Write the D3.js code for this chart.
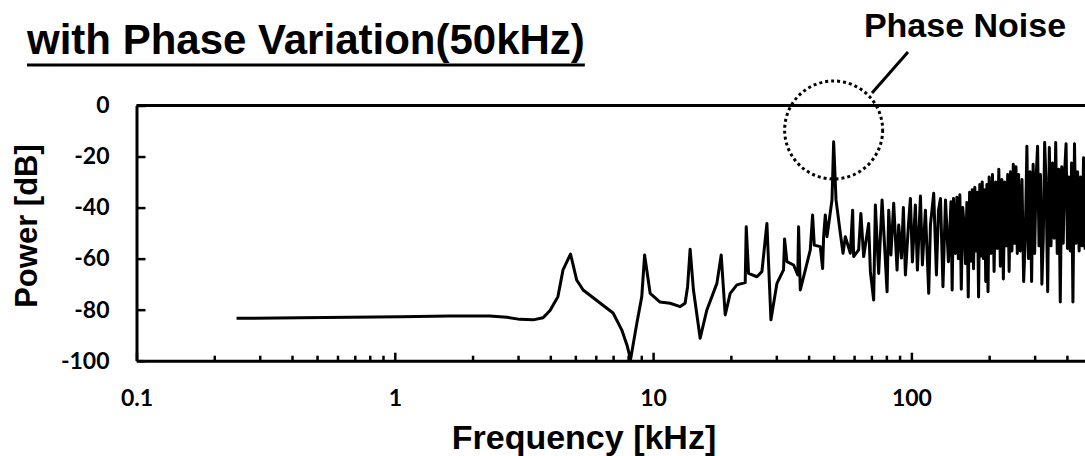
<!DOCTYPE html>
<html>
<head>
<meta charset="utf-8">
<script src="https://cdn.jsdelivr.net/npm/d3@7"></script>
<style>
  body { margin: 0; background: #fff; }
  svg { display: block; }
</style>
</head>
<body>
<div id="chart"></div>
<script>
// Spektrum: frekvens i kHz og effekt i dB
const freqKHz = [
  0.244, 0.43, 1.05, 1.63, 2.33, 2.72, 3.05, 3.43, 3.75, 3.99, 4.28, 4.48, 4.79, 5.06, 5.36, 6.23, 7.0, 7.56, 7.93, 8.18,
  8.65, 9.04, 9.27, 9.74, 10.64, 11.64, 12.73, 13.3, 13.6, 13.91, 14.33, 15.21, 16.15, 17.66, 18.35, 19.02, 19.88, 21.11,
  22.73, 22.94, 23.42, 25.23, 26.38, 27.58, 28.59, 30.16, 31.99, 32.28, 32.98, 34.99, 36.32, 36.58, 37.14, 38.83, 40.6,
  41.44, 42.07, 44.4, 45.32, 45.72, 46.42, 47.13, 49.27, 50.0, 51.07, 53.06, 54.36, 55.49, 58.02, 59.23, 59.76, 62.48,
  63.73, 65.34, 68.32, 69.37, 71.43, 72.53, 74.7, 77.0, 80.5, 81.7, 83.3, 85.4, 88.0, 89.3, 91.5, 93.1, 94.8, 97.4, 99.1,
  100.9, 103.6, 105.5, 108.4, 110.3, 113.3, 116.7, 118.5, 122.0, 125.0, 127.3, 129.6, 132.5, 135.5, 139.1, 142.3, 143.8,
  145.5,
  148, 150, 152, 154, 156, 158, 160, 162, 164, 166, 168, 170, 172, 174, 176, 178, 180, 182, 184, 186, 188, 190, 192, 194,
  196, 198, 200, 203, 206, 209, 212, 215, 218, 221, 224, 227, 230, 233, 236, 239, 242, 245, 248, 251, 254, 257, 260, 264,
  268, 272, 276, 280, 284, 288, 292, 296, 300, 304, 308, 312, 316, 320, 324, 328, 332, 337, 342, 347, 352, 357, 362, 367,
  372, 377, 382, 387, 392, 397, 402, 407, 412, 417, 422, 428, 434, 440, 446, 452, 458, 464, 470, 476, 482
];
const powerDB = [
  -83.4, -83.2, -82.8, -82.5, -82.5, -83.0, -83.8, -84.0, -83.2, -80.3, -74.9, -64.4, -58.2, -68.4, -72.3, -77.4, -81.3, -87.9, -94.0, -99.5,
  -85.3, -74.9, -58.6, -73.6, -77.0, -77.5, -78.8, -77.5, -71.0, -56.3, -72.3, -91.2, -80.1, -69.7, -58.6, -82.1, -73.6, -70.3,
  -69.4, -47.5, -65.8, -67.1, -65.1, -46.2, -84.0, -69.7, -64.4, -52.3, -61.2, -62.5, -66.4, -47.5, -72.3, -64.5, -56.6,
  -42.9, -54.7, -55.3, -63.9, -51.4, -42.9, -51.4, -37.0, -14.2, -37.0, -50.0, -57.9, -51.4, -57.9, -41.0, -59.2, -56.6,
  -42.3, -59.2, -46.2, -65.1, -76.2, -39.0, -65.8, -37.0, -73.0, -41.0, -58.6, -38.3, -64.5, -46.8, -59.8, -40.0, -66.4, -46.8, -36.4,
  -61.3, -39.0, -64.5, -35.5, -62.5, -41.0, -73.6, -46.8, -34.4, -66.4, -41.0, -36.4, -71.0, -37.0, -61.2, -37.7, -72.3,
  -36.4,
  -58, -36, -60, -35, -72, -40, -47, -62, -38, -75, -34, -61, -33, -64, -32, -57, -34, -75, -31, -59, -30, -60, -33, -69,
  -31, -73, -28, -58, -27, -65, -30, -56, -25, -63, -29, -68, -30, -55, -27, -65, -26, -57, -23, -54, -24, -58, -27, -57,
  -29, -69, -52, -16, -60, -26, -69, -23, -58, -28, -16, -55, -27, -70, -52, -14.5, -30, -73, -16.5, -55, -22.5, -52, -14.5, -58,
  -25, -77, -24, -54, -26, -15, -56, -28, -57, -22.5, -77, -15, -54, -26, -57, -28, -55, -20.5, -56, -24, -50
];
const xMajorTicks = [0.1, 1, 10, 100, 1000];
const xTickLabels = ["0.1", "1", "10", "100", ""];
const yTicks = [0, -20, -40, -60, -80, -100];
const yTickLabels = ["0", "-20", "-40", "-60", "-80", "-100"];

const W = 1085, H = 456;
const plot = { left: 136.5, top: 105.5, bottom: 360.7, decade: 258.3 };

const svg = d3.select("#chart").append("svg")
  .attr("width", W)
  .attr("height", H);

// Skalaer
const x = d3.scaleLog()
  .domain([0.1, 1000])
  .range([plot.left, plot.left + 4 * plot.decade]);
const y = d3.scaleLinear()
  .domain([-100, 0])
  .range([plot.bottom, plot.top]);

// minor ticks 2..9 i hver dekade
const xMinorTicks = [];
[0.1, 1, 10, 100].forEach(function (d) {
  for (let k = 2; k <= 9; k++) xMinorTicks.push(d * k);
});

// Ramme foroven
svg.append("line")
  .attr("x1", plot.left).attr("x2", x(1000))
  .attr("y1", plot.top).attr("y2", plot.top)
  .attr("stroke", "#000").attr("stroke-width", 3);

// X-akse
const xMinor = svg.append("g")
  .attr("transform", "translate(0," + plot.bottom + ")")
  .call(d3.axisBottom(x).tickValues(xMinorTicks).tickSize(-5).tickSizeOuter(0).tickFormat(""));
xMinor.select(".domain").remove();
xMinor.selectAll("line").attr("stroke-width", 2.5);

const xAxis = svg.append("g")
  .attr("transform", "translate(0," + plot.bottom + ")")
  .call(d3.axisBottom(x)
    .tickValues(xMajorTicks)
    .tickSize(-8)
    .tickSizeOuter(0)
    .tickPadding(29)
    .tickFormat(function (d, i) { return xTickLabels[i]; }));
xAxis.select(".domain").attr("stroke-width", 3);
xAxis.selectAll("line").attr("stroke-width", 2.5);
xAxis.selectAll("text")
  .style("font-family", "Lato, 'DejaVu Sans', sans-serif")
  .style("font-weight", "bold")
  .style("font-size", "23px")
  .attr("fill", "#000");

// Y-akse
const yAxis = svg.append("g")
  .attr("transform", "translate(" + plot.left + ",0)")
  .call(d3.axisLeft(y)
    .tickValues(yTicks)
    .tickSize(-9)
    .tickSizeOuter(0)
    .tickPadding(27)
    .tickFormat(function (d, i) { return yTickLabels[i]; }));
yAxis.select(".domain").attr("stroke-width", 3);
yAxis.selectAll("line").attr("stroke-width", 2.5);
yAxis.selectAll("text")
  .style("font-family", "Lato, 'DejaVu Sans', sans-serif")
  .style("font-weight", "bold")
  .style("font-size", "23px")
  .attr("fill", "#000");

// Selve kurven
const spectrum = freqKHz.map(function (f, i) { return { f: f, p: powerDB[i] }; });
const line = d3.line()
  .x(function (d) { return x(d.f); })
  .y(function (d) { return y(d.p); });

svg.append("path")
  .datum(spectrum)
  .attr("d", line)
  .attr("fill", "none")
  .attr("stroke", "#000")
  .attr("stroke-width", 3)
  .attr("stroke-linejoin", "round");

// Titel med understregning
const title = svg.append("text")
  .attr("x", 27)
  .attr("y", 54)
  .style("font-family", "'Liberation Sans', Arial, sans-serif")
  .style("font-weight", "bold")
  .style("font-size", "42px")
  .text("with Phase Variation(50kHz)");
const tw = title.node().getComputedTextLength();
svg.append("line")
  .attr("x1", 27).attr("x2", 27 + tw)
  .attr("y1", 65).attr("y2", 65)
  .attr("stroke", "#000").attr("stroke-width", 3);

// Annotation: cirkel om 50 kHz toppen
svg.append("circle")
  .attr("cx", x(50))
  .attr("cy", 130)
  .attr("r", 49)
  .attr("fill", "none")
  .attr("stroke", "#000")
  .attr("stroke-width", 3)
  .attr("stroke-dasharray", "3,3");

svg.append("line")
  .attr("x1", 872).attr("y1", 93)
  .attr("x2", 908).attr("y2", 52)
  .attr("stroke", "#000").attr("stroke-width", 3);

svg.append("text")
  .attr("x", 965)
  .attr("y", 37)
  .attr("text-anchor", "middle")
  .style("font-family", "'Liberation Sans', Arial, sans-serif")
  .style("font-weight", "bold")
  .style("font-size", "34px")
  .text("Phase Noise");

// Aksetitler
svg.append("text")
  .attr("x", 584)
  .attr("y", 449)
  .attr("text-anchor", "middle")
  .style("font-family", "'Liberation Sans', Arial, sans-serif")
  .style("font-weight", "bold")
  .style("font-size", "34px")
  .text("Frequency [kHz]");

svg.append("text")
  .attr("transform", "translate(37,226) rotate(-90)")
  .attr("text-anchor", "middle")
  .style("font-family", "'Liberation Sans', Arial, sans-serif")
  .style("font-weight", "bold")
  .style("font-size", "31px")
  .text("Power [dB]");
</script>
</body>
</html>
